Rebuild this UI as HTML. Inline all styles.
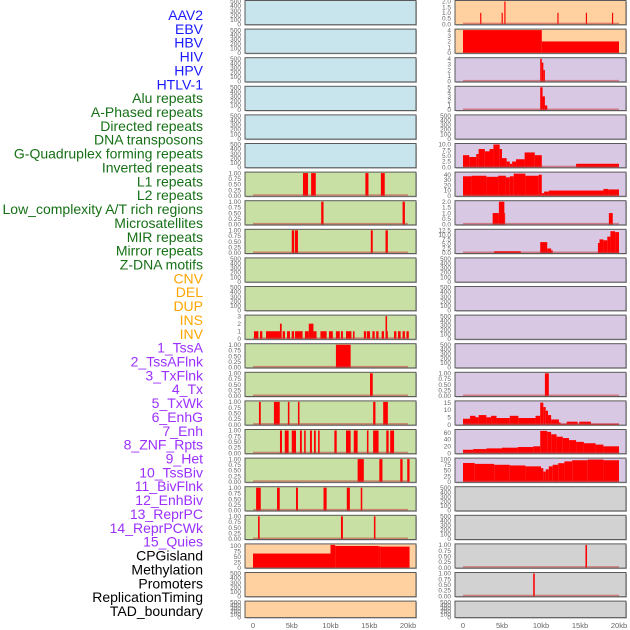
<!DOCTYPE html>
<html><head><meta charset="utf-8"><style>
html,body{margin:0;padding:0;background:#fff;width:630px;height:630px;overflow:hidden}
svg{display:block}
.lab{font-family:"Liberation Sans",sans-serif;font-size:14px}
.tk{font-family:"Liberation Sans",sans-serif;font-size:6.5px;fill:#666}
.xt{font-family:"Liberation Sans",sans-serif;font-size:7.5px;fill:#666}
</style></head><body>
<svg id="chart" width="630" height="630"></svg>
<script>
// ---- data (kb positions, values) ----
const labelNames=["AAV2","EBV","HBV","HIV","HPV","HTLV-1","Alu repeats","A-Phased repeats","Directed repeats","DNA transposons","G-Quadruplex forming repeats","Inverted repeats","L1 repeats","L2 repeats","Low_complexity A/T rich regions","Microsatellites","MIR repeats","Mirror repeats","Z-DNA motifs","CNV","DEL","DUP","INS","INV","1_TssA","2_TssAFlnk","3_TxFlnk","4_Tx","5_TxWk","6_EnhG","7_Enh","8_ZNF_Rpts","9_Het","10_TssBiv","11_BivFlnk","12_EnhBiv","13_ReprPC","14_ReprPCWk","15_Quies","CPGisland","Methylation","Promoters","ReplicationTiming","TAD_boundary"];
const labelGroups=[6,13,5,15,5];
const xTicks=[0,5,10,15,20];
const xTickLabels=["0","5kb","10kb","15kb","20kb"];
const ticks500=[0,100,200,300,400,500];
const ticks1=[0,0.25,0.5,0.75,1];
const ticks2=[0,0.5,1,1.5,2];
const ticks4=[0,1,2,3,4];
const ticks5=[0,1,2,3,4,5];
const ticks10=[0,2.5,5,7.5,10];
const ticks12=[0,2.5,5,7.5,10,12.5];
const ticks40=[0,10,20,30,40];
const ticks15=[0,5,10,15];
const ticks60=[0,20,40,60];
const ticks100=[0,25,50,75,100];
const ticks3=[0,1,2,3];
// left column series
const L6=[[6.45,7.1,1],[7.5,8.1,1],[14.5,14.9,1],[16.5,17.0,1]];
const L7=[[8.8,9.1,1],[19.3,19.6,1]];
const L8=[[5.0,5.3,1],[5.4,5.8,1],[15.2,15.45,1],[17.1,17.4,1]];
const L11=[[0.13,0.69,1],[0.9,1.2,1],[1.68,3.48,1],[3.48,3.7,2],[3.83,4.13,1],[4.39,4.77,1],[4.99,5.3,1],[5.42,6.4,1],[6.7,7.2,1],[7.2,7.8,2],[7.8,8.2,1],[8.7,9.5,1],[9.8,10.3,1],[10.7,11.2,1],[11.35,11.6,1],[12.0,12.7,1],[12.9,13.1,1],[14.3,14.6,1],[14.7,15.1,1],[15.4,15.7,1],[15.9,16.2,1],[16.6,16.9,1],[17.1,17.3,3],[17.3,17.4,1],[18.2,18.5,1],[18.7,19.05,1],[19.3,19.6,1],[19.8,20.1,1]];
const L12=[[10.7,12.6,1]];
const L13=[[15.1,15.45,1]];
const L14=[[0.77,1.0,1],[2.7,3.45,1],[4.5,4.7,1],[5.8,6.0,1],[15.5,15.8,1],[16.8,17.4,1]];
const L15=[[3.48,3.74,1],[4.1,4.6,1],[5.0,5.55,1],[6.06,6.3,1],[6.6,6.8,1],[7.35,7.6,1],[7.87,8.1,1],[8.4,8.6,1],[10.5,10.8,1],[12.0,12.6,1],[13.0,13.5,1],[14.7,14.9,1],[15.5,16.2,1],[17.2,17.5,1],[17.7,18.2,1]];
const L16=[[13.5,14.3,1],[16.3,16.7,1],[19.0,19.3,1],[19.9,20.2,1]];
const L17=[[0.4,1.0,1],[3.1,3.45,1],[5.55,5.8,1],[9.1,9.5,1],[12.1,12.5,1],[13.9,14.1,1]];
const L18=[[0.65,0.86,1],[11.35,11.6,1],[15.6,15.8,1]];
const L19=[[0,10.0,65],[10.0,10.6,105],[10.6,16.2,100],[16.2,16.5,98],[16.5,20.2,97]];
// right column series
const R0=[[2.2,2.35,1],[4.95,5.1,1],[5.3,5.45,2],[12.1,12.25,1],[15.75,15.9,1],[19.1,19.25,1]];
const R1=[[0,10.1,4],[10.1,20.0,2]];
const R2=[[9.9,10.1,4],[10.1,10.3,3.3],[10.3,10.5,2]];
const R3=[[9.9,10.2,5],[10.2,10.5,3],[10.5,10.8,1]];
const R5=[[0,0.8,5.3],[0.8,1.7,4.5],[1.7,2.0,5.8],[2.0,2.8,8],[2.8,3.4,7],[3.4,3.9,8],[3.9,4.7,10],[4.7,5.0,8],[5.0,5.6,4],[5.6,6.0,2.5],[6.0,6.3,1.5],[6.3,6.8,2.5],[6.8,7.9,3.5],[7.9,9.2,6.5],[9.2,10.1,5.3],[14.5,20,1.5]];
const R6=[[0,1.1,37],[1.1,3.0,38],[3.0,4.5,36],[4.5,5.5,38],[5.5,6.0,35],[6.0,6.5,37],[6.5,8.0,42],[8.0,9.7,38],[9.7,10.1,40],[10.1,10.4,5],[10.4,11,8],[11,18,10],[18,18.6,13],[18.6,20,12]];
const R7=[[3.8,4.6,1],[4.6,5.3,2],[5.3,5.4,1],[18.7,19.2,1]];
const R8=[[4.0,7.4,1],[9.9,10.8,6],[10.8,11.3,2.5],[11.3,11.5,1.5],[17.3,17.5,5.5],[17.5,18.0,7.5],[18.0,18.5,7],[18.5,18.9,9],[18.9,19.5,12],[19.5,20,11.5]];
const R13=[[10.5,11.0,1]];
const R14=[[0,0.9,4],[0.9,1.6,6],[1.6,2.0,5],[2.0,3.0,6.5],[3.0,3.6,5],[3.6,4.3,6],[4.3,6.0,4.5],[6.0,7.1,6],[7.1,9.3,4.5],[9.3,9.9,6],[9.9,10.3,15],[10.3,10.6,12],[10.6,10.9,9.5],[10.9,11.3,6.5],[11.3,12.3,3.5],[12.3,12.5,1.5],[12.5,13.3,0.5],[13.3,14.7,2],[14.7,14.9,0.5],[14.9,16.4,2],[16.4,20,0.5]];
const R15=[[0,1.3,10],[1.3,3,12],[3,5,14],[5,7,16],[7,9,18],[9,9.9,20],[9.9,10.8,65],[10.8,11.3,62],[11.3,12,55],[12,12.8,48],[12.8,13.6,44],[13.6,14.5,38],[14.5,15.5,33],[15.5,17,29],[17,18,25],[18,20,20]];
const R16=[[0,1.5,83],[1.5,4,79],[4,6,75],[6,8,72],[8,10,68],[10,10.3,60],[10.3,10.6,45],[10.6,11,55],[11,11.5,68],[11.5,12.2,75],[12.2,13,82],[13,14,90],[14,16,95],[16,18,98],[18,20,95]];
const R19=[[15.7,15.9,1]];
const R20=[[9.0,9.2,1]];

const BLUE="#c8e4ec",GREEN="#c8e0a4",ORANGE="#ffd0a0",PURPLE="#d8c8e4",GRAY="#d2d2d2";
const leftPanels=[
 [BLUE,null,ticks500,500],[BLUE,null,ticks500,500],[BLUE,null,ticks500,500],[BLUE,null,ticks500,500],[BLUE,null,ticks500,500],[BLUE,null,ticks500,500],
 [GREEN,L6,ticks1,1],[GREEN,L7,ticks1,1],[GREEN,L8,ticks1,1],[GREEN,null,ticks500,500],[GREEN,null,ticks500,500],[GREEN,L11,ticks3,3],
 [GREEN,L12,ticks1,1],[GREEN,L13,ticks1,1],[GREEN,L14,ticks1,1],[GREEN,L15,ticks1,1],[GREEN,L16,ticks1,1],[GREEN,L17,ticks1,1],[GREEN,L18,ticks1,1],
 [ORANGE,L19,ticks100,105],[ORANGE,null,ticks500,500],[ORANGE,null,ticks500,500]];
const rightPanels=[
 [ORANGE,R0,ticks2,2],[ORANGE,R1,ticks4,4],[PURPLE,R2,ticks4,4],[PURPLE,R3,ticks5,5],[PURPLE,null,ticks500,500],[PURPLE,R5,ticks10,10],
 [PURPLE,R6,ticks40,43],[PURPLE,R7,ticks2,2],[PURPLE,R8,ticks12,12.5],[PURPLE,null,ticks500,500],[PURPLE,null,ticks500,500],[PURPLE,null,ticks500,500],
 [PURPLE,null,ticks500,500],[PURPLE,R13,ticks1,1],[PURPLE,R14,ticks15,15.5],[PURPLE,R15,ticks60,66],[PURPLE,R16,ticks100,100],
 [GRAY,null,ticks500,500],[GRAY,null,ticks500,500],[GRAY,R19,ticks1,1],[GRAY,R20,ticks1,1],[GRAY,null,ticks500,500]];

const NS="http://www.w3.org/2000/svg";
const svg=document.getElementById('chart');
function mk(tag,attrs,parent){const e=document.createElementNS(NS,tag);for(const k in attrs)e.setAttribute(k,attrs[k]);(parent||svg).appendChild(e);return e;}
function fmt(v,ticks){
  const step=ticks[1]-ticks[0];
  if(step<0.5&&step!==0.5) return v.toFixed(2);
  if(step%1!==0) return v.toFixed(1);
  return String(v);
}
// labels
const labColors=["#1a1aff","#167016","#ffa500","#9b30ff","#000000"];
let gi=0,cnt=0;
labelNames.forEach((n,i)=>{
  while(cnt>=labelGroups[gi]){gi++;cnt=0;}
  cnt++;
  const t=mk('text',{x:203,y:15+i*13.86+5,'text-anchor':'end',class:'lab',fill:labColors[gi]});
  
  
  t.textContent=n;
});
function drawCol(panels,px,x0,x20,colName){
  const xs=kb=>x0+(x20-x0)*kb/20;
  panels.forEach((p,i)=>{
    const top=0.5+i*28.6, h=(i===21)?16.5:24.2;
    const g=mk('g',{});
    
    
    mk('rect',{x:px+1,y:top+1,width:171,height:h,fill:'#bbb'},g);
    mk('rect',{x:px,y:top,width:171,height:h,fill:p[0],stroke:'#5a5a5a','stroke-width':1},g);
    const ys=v=>top+h-0.5-(h-1.5)*v/p[3];
    if(p[1]){
      p[1].forEach(s=>{
        const r=mk('rect',{x:xs(s[0]),y:ys(s[2]),width:Math.max(0.8,xs(s[1])-xs(s[0])),height:ys(0)-ys(s[2]),fill:'#ff0000'},g);
        
        
      });
      if(!(p===leftPanels[19]||p===rightPanels[1]))
        mk('rect',{x:xs(0),y:top+h-2,width:xs(20)-xs(0),height:1.5,fill:'rgba(200,60,60,0.55)'},g);
    }
    p[2].forEach(v=>{
      const t=mk('text',{x:px-4,y:ys(v)+2.2,'text-anchor':'end',class:'tk'},g);
      
      
      t.textContent=fmt(v,p[2]);
    });
  });
  xTicks.forEach((v,k)=>{
    const t=mk('text',{x:xs(v),y:628,'text-anchor':'middle',class:'xt'});
    
    
    t.textContent=xTickLabels[k];
  });
}
drawCol(leftPanels,245,253,408,'left');
drawCol(rightPanels,455,463,619,'right');
</script>
</body></html>
